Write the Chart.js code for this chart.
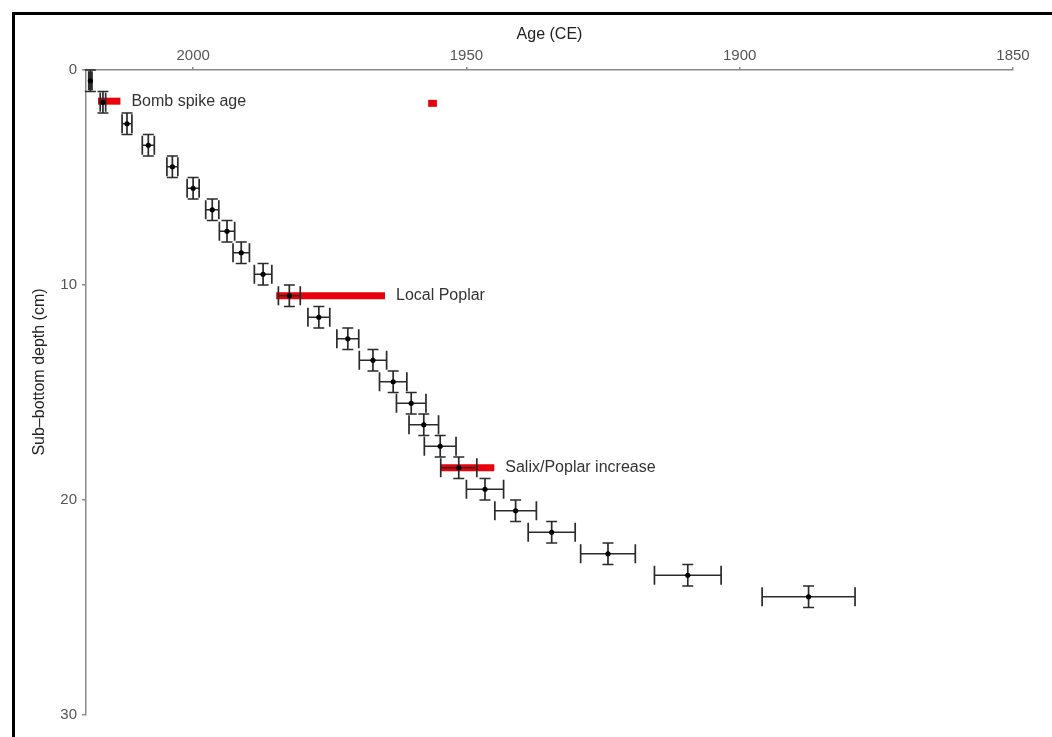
<!DOCTYPE html>
<html>
<head>
<meta charset="utf-8">
<script src="https://cdn.jsdelivr.net/npm/chart.js@4/dist/chart.umd.min.js"></script>
<style>
  html, body { margin: 0; padding: 0; background: #fff; overflow: hidden; }
  #wrap { position: relative; width: 1052px; height: 737px; }
  #marco {
    position: absolute; left: 12px; top: 12px; width: 1100px; height: 800px;
    border: 3px solid #000; pointer-events: none;
  }
</style>
</head>
<body>
<div id="wrap">
  <canvas id="grafico" width="1052" height="737"></canvas>
  <div id="marco"></div>
</div>
<script>
// profundidad (cm) del centro de cada muestra
const profundidad = [0.5, 1.5, 2.5, 3.5, 4.5, 5.5, 6.5, 7.5, 8.5, 9.5, 10.5, 11.5, 12.5,
  13.5, 14.5, 15.5, 16.5, 17.5, 18.5, 19.5, 20.5, 21.5, 22.5, 23.5, 24.5];
// edad modelada (años CE) y su error
const edad = [2018.8, 2016.5, 2012.1, 2008.2, 2003.8, 2000.0, 1996.5, 1993.8, 1991.2, 1987.2,
  1982.4, 1977.0, 1971.7, 1967.1, 1963.4, 1960.1, 1957.8, 1954.8, 1951.4, 1946.6,
  1941.0, 1934.4, 1924.1, 1909.5, 1887.4];
const errorEdad = [0.3, 0.5, 0.9, 1.1, 1.0, 1.1, 1.2, 1.4, 1.5, 1.6, 2.0, 2.0, 2.0, 2.5, 2.5,
  2.7, 2.7, 2.9, 3.3, 3.4, 3.8, 4.3, 5.0, 6.1, 8.5];
// medio intervalo de profundidad de cada muestra
const errorProf = 0.5;

// marcadores (barras rojas)
const barraTexto = ['Bomb spike age', '', 'Local Poplar', 'Salix/Poplar increase'];
const barraProf = [1.45, 1.55, 10.5, 18.5];
const barraDesde = [2017.4, 1957.0, 1984.8, 1954.8];
const barraHasta = [2013.3, 1955.4, 1964.9, 1944.9];

// ticks de los ejes
const ticksEdad = [2000, 1950, 1900, 1850];
const ticksProf = [0, 10, 20, 30];

const fuente = "'Liberation Sans', Arial, Helvetica, sans-serif";

let puntos = edad.map((e, i) => ({ x: e, y: profundidad[i] }));

let datasets = [{
  type: 'scatter',
  label: 'muestras',
  data: puntos,
  pointRadius: 2.6,
  pointBackgroundColor: '#000',
  pointBorderWidth: 0,
  order: 1
}];

barraTexto.forEach((t, i) => {
  datasets.push({
    type: 'line',
    label: t,
    data: [{ x: barraDesde[i], y: barraProf[i] }, { x: barraHasta[i], y: barraProf[i] }],
    borderColor: '#e8000b',
    borderWidth: 7,
    borderCapStyle: 'butt',
    pointRadius: 0,
    order: 2
  });
});

// barras de error, debajo de los puntos y encima de las barras rojas
const barrasError = {
  id: 'barrasError',
  beforeDatasetDraw(chart, args) {
    if (args.index !== 0) return;
    const ctx = chart.ctx;
    const sx = chart.scales.x, sy = chart.scales.y;
    ctx.save();
    ctx.strokeStyle = '#2a2a2a';
    ctx.lineWidth = 1.7;
    ctx.beginPath();
    edad.forEach((e, i) => {
      const x = sx.getPixelForValue(e);
      const y = sy.getPixelForValue(profundidad[i]);
      const y1 = sy.getPixelForValue(profundidad[i] - errorProf);
      const y2 = sy.getPixelForValue(profundidad[i] + errorProf);
      const x1 = sx.getPixelForValue(e + errorEdad[i]);
      const x2 = sx.getPixelForValue(e - errorEdad[i]);
      // vertical
      ctx.moveTo(x, y1); ctx.lineTo(x, y2);
      ctx.moveTo(x - 5.5, y1); ctx.lineTo(x + 5.5, y1);
      ctx.moveTo(x - 5.5, y2); ctx.lineTo(x + 5.5, y2);
      // horizontal
      ctx.moveTo(x1, y); ctx.lineTo(x2, y);
      ctx.moveTo(x1, y - 9.5); ctx.lineTo(x1, y + 9.5);
      ctx.moveTo(x2, y - 9.5); ctx.lineTo(x2, y + 9.5);
    });
    ctx.stroke();
    ctx.restore();
  }
};

// textos de los marcadores y titulo del eje Y
const textos = {
  id: 'textos',
  afterDatasetsDraw(chart) {
    const ctx = chart.ctx;
    const sx = chart.scales.x, sy = chart.scales.y;
    ctx.save();
    ctx.font = '16px ' + fuente;
    ctx.fillStyle = '#333';
    ctx.textAlign = 'left';
    ctx.textBaseline = 'middle';
    barraTexto.forEach((t, i) => {
      if (!t) return;
      ctx.fillText(t, sx.getPixelForValue(barraHasta[i]) + 11, sy.getPixelForValue(barraProf[i]));
    });
    ctx.translate(40, 372);
    ctx.rotate(-Math.PI / 2);
    ctx.textAlign = 'center';
    ctx.fillStyle = '#222';
    ctx.fillText('Sub\u2013bottom depth (cm)', 0, 0);
    ctx.restore();
  }
};

new Chart(document.getElementById('grafico'), {
  data: { datasets },
  plugins: [barrasError, textos],
  options: {
    responsive: false,
    animation: false,
    devicePixelRatio: 1,
    layout: { padding: { left: 0, top: 0, right: 39, bottom: 22 } },
    plugins: { legend: { display: false }, tooltip: { enabled: false } },
    scales: {
      x: {
        type: 'linear',
        position: 'top',
        reverse: true,
        min: 1850,
        max: 2019.6,
        afterBuildTicks: (s) => { s.ticks = ticksEdad.map(v => ({ value: v })); },
        afterFit: (s) => { s.height = 70; },
        border: { color: '#8a8a8a', width: 1.5 },
        grid: { drawOnChartArea: false, tickLength: 3, color: '#8a8a8a', lineWidth: 1.5 },
        ticks: {
          padding: 2, color: '#555', font: { family: fuente, size: 15 },
          callback: (v) => String(v)
        },
        title: {
          display: true, text: 'Age (CE)', color: '#222',
          font: { family: fuente, size: 16 }, padding: { top: 25, bottom: 0 }
        }
      },
      y: {
        type: 'linear',
        reverse: true,
        min: 0,
        max: 30,
        afterBuildTicks: (s) => { s.ticks = ticksProf.map(v => ({ value: v })); },
        afterFit: (s) => { s.width = 86; },
        border: { color: '#8a8a8a', width: 1.5 },
        grid: { drawOnChartArea: false, tickLength: 4, color: '#8a8a8a', lineWidth: 1.5 },
        ticks: {
          padding: 5, color: '#555', font: { family: fuente, size: 15 },
          callback: (v) => String(v)
        }
      }
    }
  }
});
</script>
</body>
</html>
